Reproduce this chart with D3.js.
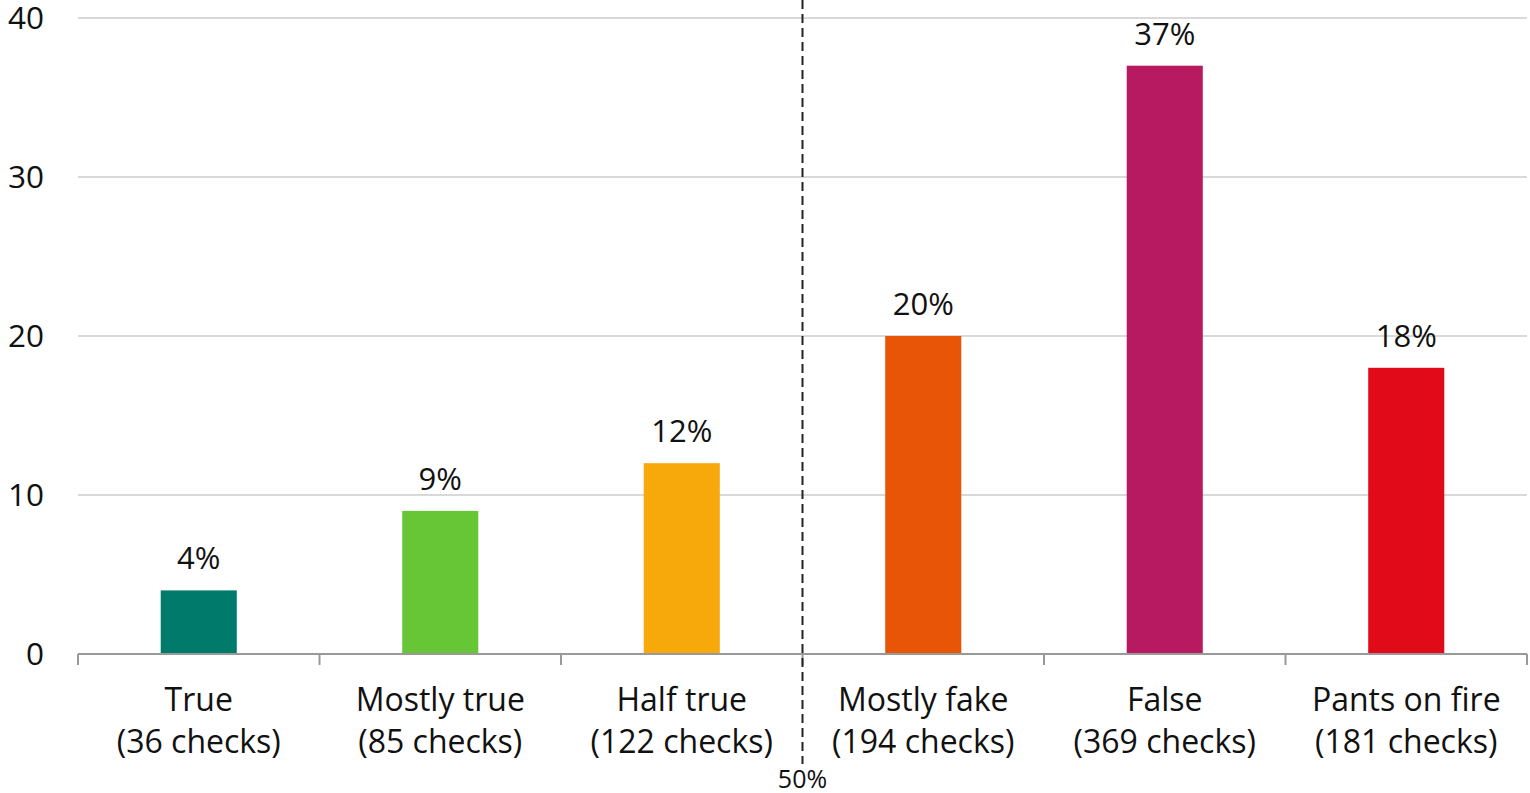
<!DOCTYPE html>
<html>
<head>
<meta charset="utf-8">
<script src="https://cdn.jsdelivr.net/npm/d3@7"></script>
<style>
  html, body { margin: 0; padding: 0; background: #fff; }
  svg { display: block; font-family: "Open Sans", "Noto Sans", sans-serif; }
</style>
</head>
<body>
<svg id="chart" width="1530" height="793"></svg>
<script>
// Share of fact-checks by rating
const categories = ["True", "Mostly true", "Half true", "Mostly fake", "False", "Pants on fire"];
const checks = [36, 85, 122, 194, 369, 181];
const percents = [4, 9, 12, 20, 37, 18];
const colors = ["#007a6a", "#66c635", "#f7a80b", "#e95506", "#b81a62", "#e10a19"];
const yTicks = [0, 10, 20, 30, 40];
const splitLabel = "50%";

const svg = d3.select("#chart");
const margin = { left: 78, right: 3, top: 18, bottom: 139 };
const W = 1530, H = 793;

const x = d3.scaleBand()
  .domain(categories)
  .range([margin.left, W - margin.right])
  .paddingInner(0)
  .paddingOuter(0);

const y = d3.scaleLinear()
  .domain([0, 40])
  .range([H - margin.bottom, margin.top]);

// Horizontal gridlines
svg.append("g")
  .selectAll("line")
  .data(yTicks.filter(d => d > 0))
  .join("line")
  .attr("x1", margin.left)
  .attr("x2", W - margin.right)
  .attr("y1", d => y(d))
  .attr("y2", d => y(d))
  .attr("stroke", "#d9d9d9")
  .attr("stroke-width", 2);

// Y axis labels
svg.append("g")
  .selectAll("text")
  .data(yTicks)
  .join("text")
  .attr("x", 44)
  .attr("y", d => y(d))
  .attr("dy", "0.36em")
  .attr("text-anchor", "end")
  .attr("font-size", 31.5)
  .attr("fill", "#111")
  .text(d => d);

// Bars
const barW = x.bandwidth() * 0.315;
svg.append("g")
  .selectAll("rect")
  .data(categories)
  .join("rect")
  .attr("x", d => x(d) + x.bandwidth() / 2 - barW / 2)
  .attr("y", (d, i) => y(percents[i]))
  .attr("width", barW)
  .attr("height", (d, i) => y(0) - y(percents[i]))
  .attr("fill", (d, i) => colors[i]);

// Value labels
svg.append("g")
  .selectAll("text")
  .data(categories)
  .join("text")
  .attr("x", d => x(d) + x.bandwidth() / 2)
  .attr("y", (d, i) => y(percents[i]) - 21)
  .attr("text-anchor", "middle")
  .attr("font-size", 31)
  .attr("fill", "#111")
  .text((d, i) => percents[i] + "%");

// Baseline axis with band boundary ticks
const axisY = y(0);
svg.append("line")
  .attr("x1", margin.left)
  .attr("x2", W - margin.right)
  .attr("y1", axisY)
  .attr("y2", axisY)
  .attr("stroke", "#999")
  .attr("stroke-width", 2);

const boundaries = categories.map(d => x(d)).concat([W - margin.right]);
svg.append("g")
  .selectAll("line")
  .data(boundaries)
  .join("line")
  .attr("x1", d => d)
  .attr("x2", d => d)
  .attr("y1", axisY)
  .attr("y2", axisY + 11)
  .attr("stroke", "#999")
  .attr("stroke-width", 2);

// Category labels (two lines)
const cat = svg.append("g")
  .selectAll("text")
  .data(categories)
  .join("text")
  .attr("text-anchor", "middle")
  .attr("font-size", 32)
  .attr("fill", "#111");
cat.append("tspan")
  .attr("x", d => x(d) + x.bandwidth() / 2)
  .attr("y", axisY + 57)
  .text(d => d);
cat.append("tspan")
  .attr("x", d => x(d) + x.bandwidth() / 2)
  .attr("y", axisY + 99)
  .text((d, i) => "(" + checks[i] + " checks)");

// Dashed divider at the midpoint between true-ish and false-ish ratings
const splitX = x(categories[3]);
svg.append("line")
  .attr("x1", splitX)
  .attr("x2", splitX)
  .attr("y1", 0)
  .attr("y2", H - 29)
  .attr("stroke", "#222")
  .attr("stroke-width", 2)
  .attr("stroke-dasharray", "9,5");

svg.append("text")
  .attr("x", splitX)
  .attr("y", H - 5)
  .attr("text-anchor", "middle")
  .attr("font-size", 25)
  .attr("fill", "#111")
  .text(splitLabel);
</script>
</body>
</html>
